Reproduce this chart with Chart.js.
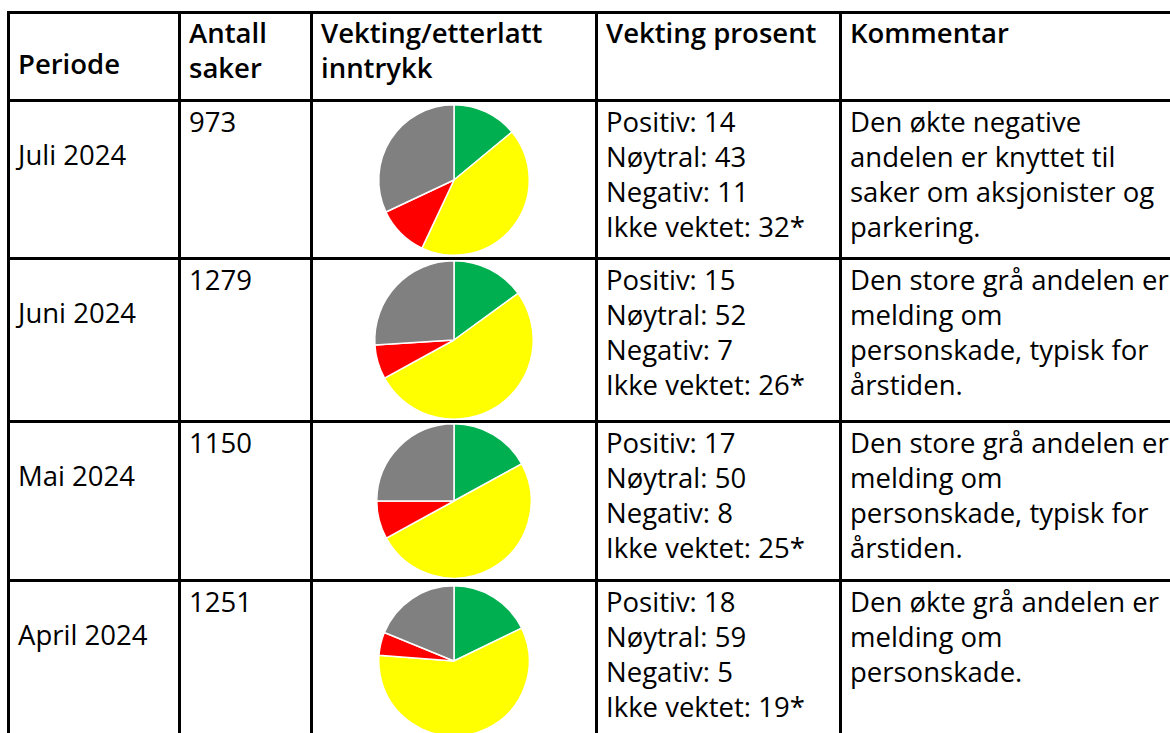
<!DOCTYPE html>
<html>
<head>
<meta charset="utf-8">
<script src="https://cdn.jsdelivr.net/npm/chart.js@4"></script>
<style>
  html, body { margin: 0; padding: 0; background: #fff; overflow: hidden; }
  body { width: 1170px; height: 733px; position: relative; }
  table {
    position: absolute; left: 7px; top: 11px;
    border-collapse: collapse; table-layout: fixed; width: 1200px;
    font-family: "Open Sans", Lato, sans-serif; font-size: 27.5px; line-height: 35px; color: #000;
  }
  td, th {
    border: 3px solid #000; padding: 2px 0 0 8px; vertical-align: top;
    text-align: left; white-space: nowrap; overflow: hidden;
  }
  th { font-weight: 600; padding-top: 1px; }
  th.low { padding-top: 32px; }
  td.period { padding-top: 35px; }
  td.pie { padding: 0; vertical-align: middle; }
  .pieBox { position: relative; width: 100%; }
</style>
</head>
<body>
<table id="tbl">
  <colgroup>
    <col style="width:171px"><col style="width:132px"><col style="width:285px"><col style="width:244px"><col style="width:368px">
  </colgroup>
  <thead>
    <tr style="height:88px">
      <th class="low">Periode</th>
      <th>Antall<br>saker</th>
      <th>Vekting/etterlatt<br>inntrykk</th>
      <th>Vekting prosent</th>
      <th>Kommentar</th>
    </tr>
  </thead>
  <tbody id="rows"></tbody>
</table>
<script>
const periods = ['Juli 2024', 'Juni 2024', 'Mai 2024', 'April 2024'];
const caseCounts = [973, 1279, 1150, 1251];
const categories = ['Positiv', 'Nøytral', 'Negativ', 'Ikke vektet'];
const positiv = [14, 15, 17, 18];
const noytral = [43, 52, 50, 59];
const negativ = [11, 7, 8, 5];
const ikkeVektet = [32, 26, 25, 19];
const comments = [
  ['Den økte negative', 'andelen er knyttet til', 'saker om aksjonister og', 'parkering.'],
  ['Den store grå andelen er', 'melding om', 'personskade, typisk for', 'årstiden.'],
  ['Den store grå andelen er', 'melding om', 'personskade, typisk for', 'årstiden.'],
  ['Den økte grå andelen er', 'melding om', 'personskade.']
];

const sliceColors = ['#00B050', '#FFFF00', '#FF0000', '#808080'];
const rowHeights = [158, 163, 159, 160];
const pieHeights = [152, 160, 156, 152];

const tbody = document.getElementById('rows');

periods.forEach((p, i) => {
  const vals = [positiv[i], noytral[i], negativ[i], ikkeVektet[i]];
  const tr = document.createElement('tr');
  tr.style.height = rowHeights[i] + 'px';

  const pct = categories.map((c, k) => c + ': ' + vals[k] + (k === 3 ? '*' : '')).join('<br>');

  tr.innerHTML =
    '<td class="period">' + p + '</td>' +
    '<td>' + caseCounts[i] + '</td>' +
    '<td class="pie"><div class="pieBox" style="height:' + pieHeights[i] + 'px"><canvas id="pie' + i + '"></canvas></div></td>' +
    '<td>' + pct + '</td>' +
    '<td>' + comments[i].join('<br>') + '</td>';
  tbody.appendChild(tr);

  new Chart(document.getElementById('pie' + i), {
    type: 'pie',
    data: {
      labels: categories,
      datasets: [{
        data: vals,
        backgroundColor: sliceColors,
        borderColor: '#ffffff',
        borderWidth: 1.5
      }]
    },
    options: {
      responsive: true,
      maintainAspectRatio: false,
      animation: false,
      layout: { padding: 0 },
      plugins: {
        legend: { display: false },
        tooltip: { enabled: false }
      }
    }
  });
});
</script>
</body>
</html>
